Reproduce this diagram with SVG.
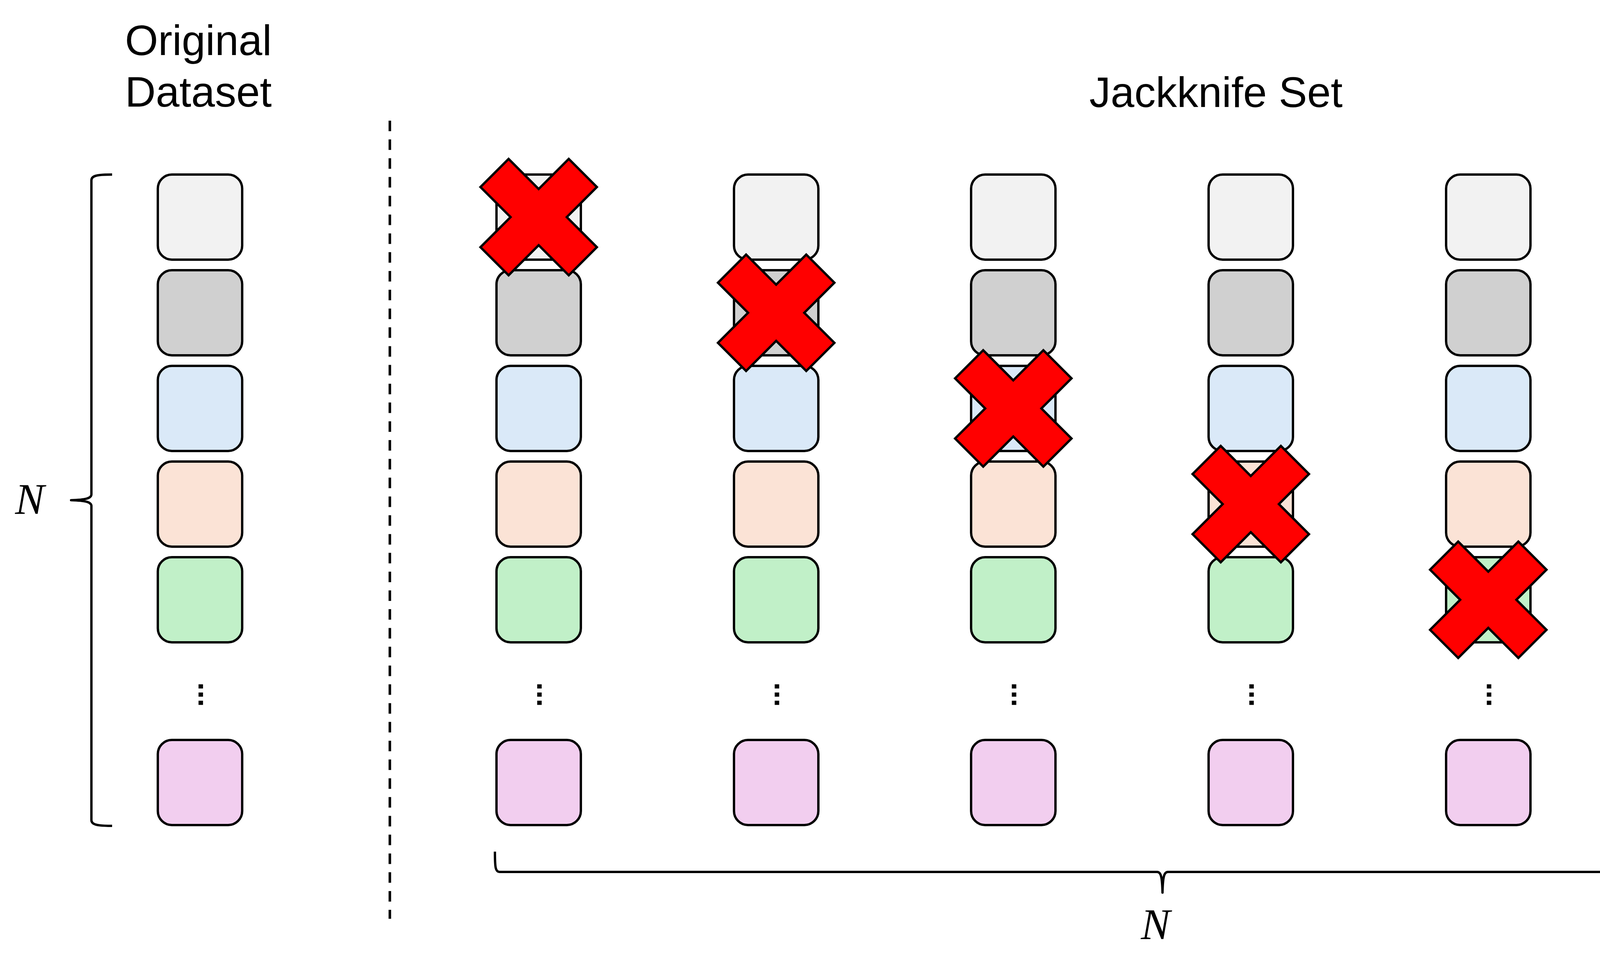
<svg xmlns="http://www.w3.org/2000/svg" width="4730" height="2456" viewBox="0 0 4730 2456">
  <style>
    .box { stroke: #000; stroke-width: 6; }
    .r1 { fill: #F2F2F2; }
    .r2 { fill: #D0D0D0; }
    .r3 { fill: #DAE9F8; }
    .r4 { fill: #FBE3D6; }
    .r5 { fill: #C1F0C8; }
    .r6 { fill: #F2CEEF; }
    .cross { fill: #FF0000; stroke: #000; stroke-width: 6; stroke-linejoin: miter; }
    .title { font-family: "Liberation Sans", Arial, sans-serif; font-size: 109px; fill: #000; }
    .math { font-family: "Liberation Serif", "Times New Roman", serif; font-style: italic; font-size: 112px; fill: #000; }
    .dots { font-family: "Liberation Sans", Arial, sans-serif; font-weight: bold; fill: #000; stroke: #000; stroke-width: 1.5; }
    .brace { fill: none; stroke: #000; stroke-width: 6; stroke-linejoin: round; }
    .divider { fill: none; stroke: #000; stroke-width: 6.5; stroke-dasharray: 27 21.12; }
  </style>
  <defs>
    <rect id="cell" x="-108" y="-109" width="216" height="218" rx="36" ry="36"/>
    <polygon id="x" points="0,-72 77,-149 149,-77 72,0 149,77 77,149 0,72 -77,149 -149,77 -72,0 -149,-77 -77,-149"/>
  </defs>
  <rect width="4730" height="2456" fill="#FFFFFF"/>

  <g id="labels">
    <text class="title" x="320" y="141">Original</text>
    <text class="title" x="320" y="273">Dataset</text>
    <text class="title" x="3113" y="274" text-anchor="middle">Jackknife Set</text>
    <text class="math" x="76" y="1316" text-anchor="middle">N</text>
    <text class="math" x="2958" y="2405" text-anchor="middle">N</text>
  </g>

  <g id="connectors">
    <line class="divider" x1="998" y1="309" x2="998" y2="2353"/>
    <path class="brace" d="M 287 447 C 248 447 234 450 234 462 L 234 1266 C 234 1276 220 1280 182 1281 C 220 1282 234 1286 234 1296 L 234 2100 C 234 2112 248 2115 287 2115"/>
    <path class="brace" d="M 1267 2181 C 1267 2222 1268 2233 1280 2233 L 2962 2233 C 2972 2233 2975 2245 2976 2286 C 2977 2245 2980 2233 2990 2233 L 4672 2233 C 4684 2233 4685 2222 4685 2181"/>
  </g>

  <g id="original-dataset">
    <use href="#cell" class="box r1" x="512" y="556"/>
    <use href="#cell" class="box r2" x="512" y="801"/>
    <use href="#cell" class="box r3" x="512" y="1046"/>
    <use href="#cell" class="box r4" x="512" y="1291"/>
    <use href="#cell" class="box r5" x="512" y="1536"/>
    <text class="dots" font-size="66" transform="translate(508.6,1779) rotate(90)" text-anchor="middle">…</text>
    <use href="#cell" class="box r6" x="512" y="2004"/>
  </g>

  <g id="jackknife-1">
    <use href="#cell" class="box r1" x="1379" y="556"/>
    <use href="#cell" class="box r2" x="1379" y="801"/>
    <use href="#cell" class="box r3" x="1379" y="1046"/>
    <use href="#cell" class="box r4" x="1379" y="1291"/>
    <use href="#cell" class="box r5" x="1379" y="1536"/>
    <text class="dots" font-size="66" transform="translate(1375.6,1779) rotate(90)" text-anchor="middle">…</text>
    <use href="#cell" class="box r6" x="1379" y="2004"/>
    <use href="#x" class="cross" x="1379" y="556"/>
  </g>

  <g id="jackknife-2">
    <use href="#cell" class="box r1" x="1987" y="556"/>
    <use href="#cell" class="box r2" x="1987" y="801"/>
    <use href="#cell" class="box r3" x="1987" y="1046"/>
    <use href="#cell" class="box r4" x="1987" y="1291"/>
    <use href="#cell" class="box r5" x="1987" y="1536"/>
    <text class="dots" font-size="66" transform="translate(1983.6,1779) rotate(90)" text-anchor="middle">…</text>
    <use href="#cell" class="box r6" x="1987" y="2004"/>
    <use href="#x" class="cross" x="1987" y="801"/>
  </g>

  <g id="jackknife-3">
    <use href="#cell" class="box r1" x="2594" y="556"/>
    <use href="#cell" class="box r2" x="2594" y="801"/>
    <use href="#cell" class="box r3" x="2594" y="1046"/>
    <use href="#cell" class="box r4" x="2594" y="1291"/>
    <use href="#cell" class="box r5" x="2594" y="1536"/>
    <text class="dots" font-size="66" transform="translate(2590.6,1779) rotate(90)" text-anchor="middle">…</text>
    <use href="#cell" class="box r6" x="2594" y="2004"/>
    <use href="#x" class="cross" x="2594" y="1046"/>
  </g>

  <g id="jackknife-4">
    <use href="#cell" class="box r1" x="3202" y="556"/>
    <use href="#cell" class="box r2" x="3202" y="801"/>
    <use href="#cell" class="box r3" x="3202" y="1046"/>
    <use href="#cell" class="box r4" x="3202" y="1291"/>
    <use href="#cell" class="box r5" x="3202" y="1536"/>
    <text class="dots" font-size="66" transform="translate(3198.6,1779) rotate(90)" text-anchor="middle">…</text>
    <use href="#cell" class="box r6" x="3202" y="2004"/>
    <use href="#x" class="cross" x="3202" y="1291"/>
  </g>

  <g id="jackknife-5">
    <use href="#cell" class="box r1" x="3810" y="556"/>
    <use href="#cell" class="box r2" x="3810" y="801"/>
    <use href="#cell" class="box r3" x="3810" y="1046"/>
    <use href="#cell" class="box r4" x="3810" y="1291"/>
    <use href="#cell" class="box r5" x="3810" y="1536"/>
    <text class="dots" font-size="66" transform="translate(3806.6,1779) rotate(90)" text-anchor="middle">…</text>
    <use href="#cell" class="box r6" x="3810" y="2004"/>
    <use href="#x" class="cross" x="3810" y="1536"/>
  </g>

  <g id="ellipsis">
    <text class="dots" font-size="75" x="4191" y="1301" text-anchor="middle">…</text>
  </g>

  <g id="jackknife-n">
    <use href="#cell" class="box r1" x="4575" y="556"/>
    <use href="#cell" class="box r2" x="4575" y="801"/>
    <use href="#cell" class="box r3" x="4575" y="1046"/>
    <use href="#cell" class="box r4" x="4575" y="1291"/>
    <use href="#cell" class="box r5" x="4575" y="1536"/>
    <text class="dots" font-size="66" transform="translate(4571.6,1779) rotate(90)" text-anchor="middle">…</text>
    <use href="#cell" class="box r6" x="4575" y="2004"/>
    <use href="#x" class="cross" x="4575" y="2004"/>
  </g>
</svg>
